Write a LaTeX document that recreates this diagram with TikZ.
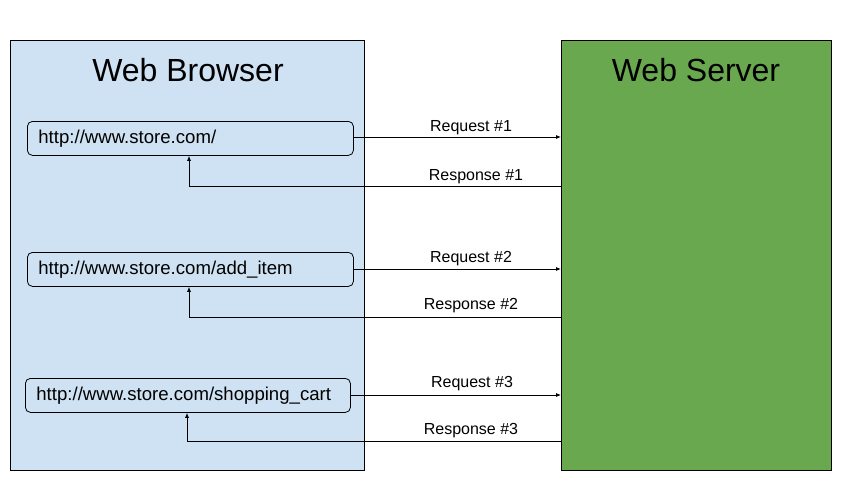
\documentclass[tikz,border=0pt]{standalone}
\usepackage{fontspec}
\setmainfont{Liberation Sans}
\usetikzlibrary{arrows.meta}
\definecolor{brfill}{HTML}{CFE2F3}
\definecolor{svfill}{HTML}{6AA84F}
\begin{document}
\begin{tikzpicture}[x=1pt,y=-1pt,
  panel/.style={draw=black, line width=0.8pt, anchor=north west, inner sep=0pt},
  title/.style={font=\fontsize{32}{36}\selectfont},
  urlbox/.style={draw=black, line width=0.8pt, rounded corners=5pt, anchor=north west, inner sep=0pt, text width=#1, minimum height=34pt, align=left, font=\fontsize{18.6}{21}\selectfont},
  lbl/.style={font=\fontsize{16}{18}\selectfont, inner sep=0pt},
  conn/.style={draw=black, line width=0.8pt, -{Latex[length=5pt,width=4pt]}}]
\useasboundingbox (0,0) rectangle (848,487);
% panels
\node[panel, fill=brfill, minimum width=354pt, minimum height=430pt] (browser) at (10,40) {};
\node[panel, fill=svfill, minimum width=270pt, minimum height=430pt] (server) at (561,40) {};
\node[title] (btitle) at (188,70) {Web Browser};
\node[title] (stitle) at (696,70) {Web Server};
% url boxes
\node[urlbox=326pt, minimum width=326pt] (u1) at (27,121) {\hspace{11pt}\raisebox{-1.5pt}{http://www.store.com/}};
\node[urlbox=326pt, minimum width=326pt] (u2) at (27,252) {\hspace{11pt}\raisebox{-1.5pt}{http://www.store.com/add\_item}};
\node[urlbox=325pt, minimum width=325pt] (u3) at (25,378) {\hspace{11pt}\raisebox{-1.5pt}{http://www.store.com/shopping\_cart}};
% coordinates on server edge
\coordinate (s1) at (561,137);
\coordinate (r1) at (561,186);
\coordinate (s2) at (561,269);
\coordinate (r2) at (561,317);
\coordinate (s3) at (561,395);
\coordinate (r3) at (561,441);
\coordinate (b1) at (189,186);
\coordinate (b2) at (189,317);
\coordinate (b3) at (187,441);
% requests
\draw[conn] (u1.east |- s1) -- (s1);
\draw[conn] (u2.east |- s2) -- (s2);
\draw[conn] (u3.east |- s3) -- (s3);
% responses
\draw[conn] (r1) -- (b1) -- (b1 |- u1.south);
\draw[conn] (r2) -- (b2) -- (b2 |- u2.south);
\draw[conn] (r3) -- (b3) -- (b3 |- u3.south);
% labels
\node[lbl] (l1) at (471,127.5) {Request \#1};
\node[lbl] (l2) at (476,176.5) {Response \#1};
\node[lbl] (l3) at (471,258.5) {Request \#2};
\node[lbl] (l4) at (471,305.5) {Response \#2};
\node[lbl] (l5) at (472,383.5) {Request \#3};
\node[lbl] (l6) at (471,430.5) {Response \#3};
\end{tikzpicture}
\end{document}
